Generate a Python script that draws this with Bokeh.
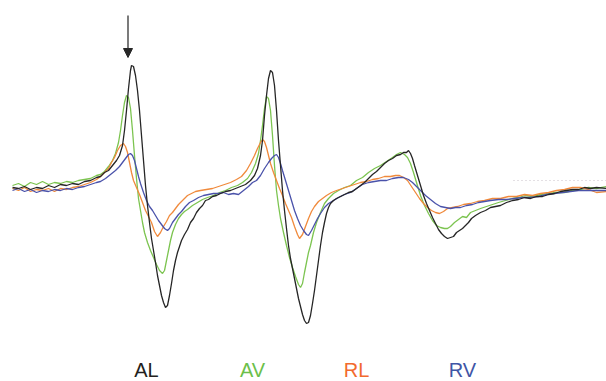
from bokeh.plotting import figure
from bokeh.models import Range1d, Arrow, NormalHead
from bokeh.core.properties import value
from bokeh.embed import file_html
from bokeh.resources import INLINE
import numpy as np

# Traces: (sample, deflection read downward from top, px units)
AL = [(12,187),(18,188),(24,186),(30,189),(36,187),(42,188),(48,185),(54,187),(60,184),(66,185),(72,183),(78,184),(84,181),(90,180),(96,177),(100,176),(104,172),(108,170),(112,165),(116,160),(119,155),(122,145),(124,130),(126,110),(128,88),(130,70),(131,65),(133,66),(135,75),(137,90),(139,110),(141,135),(143,160),(145,185),(147,205),(149,222),(151,238),(153,250),(155,262),(157,275),(159,285),(161,295),(163,302),(165,307),(167,305),(169,295),(171,283),(173,270),(175,260),(177,252),(179,246),(181,240),(184,234),(187,229),(190,222),(193,218),(196,212),(199,208),(202,205),(205,200),(208,199),(212,196),(216,195),(220,193),(225,191),(230,190),(235,188),(240,186),(245,184),(250,180),(254,175),(257,168),(260,155),(262,140),(264,115),(266,95),(268,78),(270,70),(272,72),(274,85),(276,110),(278,140),(280,165),(282,190),(284,210),(286,228),(288,245),(290,258),(292,268),(294,278),(296,288),(298,298),(300,306),(302,314),(304,320),(306,323),(308,322),(310,315),(312,303),(314,290),(316,275),(318,260),(320,245),(322,232),(324,222),(326,213),(328,207),(330,203),(333,200),(336,198),(340,196),(344,194),(348,192),(352,191),(356,188),(360,185),(364,182),(368,178),(372,174),(376,171),(380,167),(384,163),(388,160),(392,158),(396,155),(400,154),(403,152),(406,152),(408,150),(410,153),(412,158),(414,165),(417,175),(420,185),(423,195),(426,203),(429,210),(432,217),(435,223),(438,229),(441,233),(444,236),(447,238),(450,237),(453,236),(456,232),(459,230),(462,228),(465,225),(468,222),(471,218),(475,215),(480,212),(485,210),(490,207),(495,206),(500,205),(506,202),(512,200),(518,199),(524,197),(530,198),(536,196),(542,196),(548,194),(554,193),(560,191),(566,190),(572,189),(578,189),(584,187),(590,188),(596,187),(606,188)]

AV = [(12,185),(18,183),(24,186),(30,182),(36,184),(42,181),(48,184),(54,182),(60,183),(66,181),(72,182),(78,180),(84,179),(90,178),(96,175),(100,174),(104,171),(108,166),(112,160),(115,153),(118,142),(120,130),(122,115),(124,102),(126,95),(128,97),(130,108),(132,130),(134,155),(136,178),(138,198),(140,210),(142,222),(144,232),(147,242),(150,250),(153,257),(156,264),(159,270),(162,273),(164,270),(166,260),(168,250),(170,240),(172,232),(175,224),(178,218),(181,214),(184,211),(187,209),(192,205),(197,202),(202,199),(207,197),(213,195),(219,192),(225,190),(231,187),(237,185),(242,182),(247,178),(251,172),(255,163),(258,153),(260,140),(262,125),(264,108),(266,96),(268,98),(270,110),(272,135),(274,165),(276,190),(278,205),(280,218),(283,232),(286,245),(289,257),(292,267),(295,276),(298,284),(300,287),(302,283),(304,272),(306,262),(308,252),(310,245),(313,232),(316,222),(320,212),(324,203),(328,198),(333,193),(338,190),(344,187),(350,185),(356,180),(362,177),(368,172),(374,168),(380,165),(386,161),(392,157),(396,154),(400,152),(404,154),(407,157),(410,163),(413,172),(416,182),(420,195),(424,205),(428,213),(432,220),(436,225),(440,227),(444,228),(447,228),(450,226),(454,222),(458,219),(462,216),(466,217),(470,212),(475,210),(480,208),(486,206),(492,204),(498,202),(505,200),(512,198),(518,197),(525,195),(532,196),(540,194),(548,193),(556,192),(564,192),(572,190),(580,189),(588,187),(596,188),(606,186)]

RL = [(12,188),(18,190),(24,187),(30,191),(36,189),(42,190),(48,188),(54,191),(60,188),(66,189),(72,187),(78,186),(84,184),(90,182),(96,179),(100,176),(104,172),(108,168),(111,162),(114,157),(117,150),(120,145),(123,143),(125,146),(127,152),(129,162),(131,172),(133,180),(136,187),(139,194),(142,202),(145,210),(148,216),(151,222),(154,231),(157,236),(160,232),(163,226),(166,221),(169,215),(172,212),(175,208),(178,204),(181,201),(184,198),(187,195),(191,193),(195,191),(200,190),(206,189),(212,188),(218,186),(224,184),(230,182),(236,179),(241,176),(246,170),(250,163),(254,155),(257,148),(260,142),(262,139),(264,141),(266,147),(268,155),(270,163),(273,172),(276,180),(279,188),(282,195),(285,203),(288,210),(291,217),(294,226),(297,234),(299,238),(302,234),(305,226),(308,218),(311,211),(314,206),(318,201),(322,198),(326,195),(331,192),(336,190),(342,188),(348,186),(354,184),(360,182),(366,181),(372,179),(378,178),(384,176),(390,176),(395,175),(399,175),(403,177),(407,180),(411,186),(415,192),(419,198),(423,203),(427,207),(431,210),(435,212),(439,213),(443,211),(447,208),(452,207),(457,206),(463,204),(470,203),(477,201),(484,200),(492,198),(500,198),(508,196),(516,196),(524,194),(532,195),(540,193),(548,192),(556,190),(564,189),(572,187),(580,187),(588,189),(596,192),(606,191)]

RV = [(12,190),(18,188),(24,191),(30,189),(36,192),(42,190),(48,191),(54,189),(60,190),(66,188),(72,189),(78,187),(84,186),(90,184),(96,182),(100,181),(105,178),(110,174),(115,170),(119,166),(122,162),(125,158),(128,154),(130,153),(132,155),(134,160),(136,168),(138,176),(140,183),(143,192),(146,200),(149,206),(152,210),(155,215),(158,220),(161,224),(164,228),(167,230),(169,228),(172,222),(175,218),(178,214),(181,211),(185,206),(189,202),(193,200),(198,197),(203,195),(208,194),(213,193),(218,193),(223,192),(228,194),(233,193),(238,194),(243,190),(248,186),(252,182),(256,180),(260,175),(264,168),(268,162),(271,158),(274,155),(276,154),(278,157),(280,163),(282,170),(285,180),(288,190),(291,200),(294,210),(297,218),(300,225),(303,230),(306,234),(308,235),(311,230),(314,224),(317,218),(320,213),(324,207),(328,203),(333,200),(338,197),(344,194),(350,192),(356,188),(362,184),(368,182),(374,181),(380,180),(386,180),(392,178),(398,177),(403,177),(408,179),(412,182),(416,186),(420,190),(425,195),(430,199),(435,203),(440,206),(445,207),(450,208),(455,207),(460,207),(466,205),(472,204),(478,202),(484,201),(490,200),(498,199),(506,199),(514,198),(522,197),(530,197),(538,196),(546,194),(554,193),(562,192),(570,191),(578,190),(586,190),(594,190),(606,190)]

labels = ["AL", "AV", "RL", "RV"]
label_pos = [146, 252, 356, 462]
line_colors = ["#262626", "#7cc450", "#f08a3c", "#4a52aa"]
text_colors = ["#231f20", "#6cbf4a", "#f26a2e", "#3f56a6"]

BASE = 187  # baseline level used to turn read values into amplitudes
W, H = 606, 381

def split(tr):
    t = np.array([a for a, b in tr], dtype=float)
    amp = BASE - np.array([b for a, b in tr], dtype=float)
    return t, amp

p = figure(width=W, height=H, output_backend="svg", toolbar_location=None,
           x_range=Range1d(0, W), y_range=Range1d(BASE - H, BASE),
           min_border=0, min_border_left=0, min_border_right=0,
           min_border_top=0, min_border_bottom=0)
p.axis.visible = False
p.grid.visible = False
p.outline_line_color = None
p.background_fill_color = "white"
p.border_fill_color = "white"

# faint dotted reference line at right
p.line([513, 606], [BASE - 180, BASE - 180], line_color="#c8c0c8", line_width=1, line_dash="1 3")

order = [1, 2, 3, 0]
traces = [AL, AV, RL, RV]
for i in order:
    t, a = split(traces[i])
    p.line(t, a, line_color=line_colors[i], line_width=1.3)

p.add_layout(Arrow(end=NormalHead(size=9, fill_color="#262626", line_color="#262626"),
                   x_start=127.5, y_start=BASE - 15, x_end=127.5, y_end=BASE - 57,
                   line_color="#333333", line_width=1.3))

p.text(x=label_pos, y=[BASE - 369] * 4, text=labels, text_color=text_colors,
       text_font=value("Liberation Sans"), text_font_size="20px",
       text_align="center", text_baseline="middle")

open("out.html", "w").write(file_html(p, INLINE))
